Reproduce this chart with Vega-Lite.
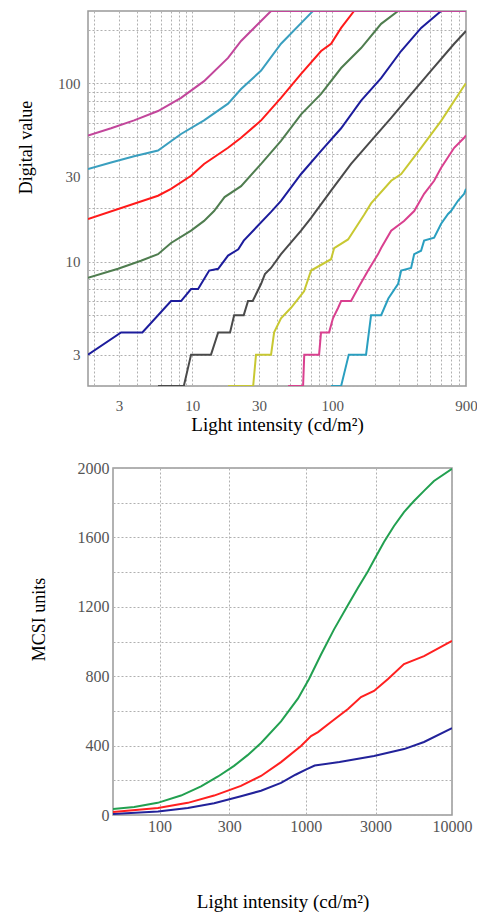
{
  "$schema": "https://vega.github.io/schema/vega-lite/v6.json",
  "padding": {"left": 16, "top": 10, "right": 0, "bottom": 0},
  "background": "white",
  "config": {
    "view": {"stroke": "#999999", "strokeWidth": 1.5},
    "font": "Liberation Serif",
    "axis": {
      "labelFont": "Liberation Serif",
      "titleFont": "Liberation Serif",
      "titleFontWeight": "normal",
      "titleColor": "#000000",
      "labelColor": "#555555",
      "domain": false,
      "ticks": false,
      "grid": true,
      "gridColor": "#b0b0b0",
      "gridDash": [2, 2],
      "gridWidth": 1
    }
  },
  "datasets": {
    "top": [
      {"s": "c1", "x": 97.9, "y": 2}, {"s": "c1", "x": 115.5, "y": 2}, {"s": "c1", "x": 131, "y": 3}, {"s": "c1", "x": 174, "y": 3}, {"s": "c1", "x": 189, "y": 5}, {"s": "c1", "x": 223, "y": 5}, {"s": "c1", "x": 251, "y": 6.2}, {"s": "c1", "x": 295, "y": 7.5}, {"s": "c1", "x": 310, "y": 8.9}, {"s": "c1", "x": 365, "y": 9.2}, {"s": "c1", "x": 384, "y": 11}, {"s": "c1", "x": 430, "y": 11.5}, {"s": "c1", "x": 452, "y": 13.1}, {"s": "c1", "x": 533, "y": 13.6}, {"s": "c1", "x": 598, "y": 16.3}, {"s": "c1", "x": 670, "y": 18.5}, {"s": "c1", "x": 704, "y": 19.2}, {"s": "c1", "x": 791, "y": 22}, {"s": "c1", "x": 873, "y": 24}, {"s": "c1", "x": 900, "y": 25.6},
      {"s": "c2", "x": 48.3, "y": 2}, {"s": "c2", "x": 61.8, "y": 2}, {"s": "c2", "x": 63, "y": 3}, {"s": "c2", "x": 80.4, "y": 3}, {"s": "c2", "x": 83, "y": 4}, {"s": "c2", "x": 94.8, "y": 4}, {"s": "c2", "x": 101, "y": 4.8}, {"s": "c2", "x": 110, "y": 5.5}, {"s": "c2", "x": 115.5, "y": 6}, {"s": "c2", "x": 136, "y": 6}, {"s": "c2", "x": 152.7, "y": 7.1}, {"s": "c2", "x": 180, "y": 8.9}, {"s": "c2", "x": 212, "y": 11}, {"s": "c2", "x": 223, "y": 11.9}, {"s": "c2", "x": 263, "y": 14.9}, {"s": "c2", "x": 325, "y": 16.9}, {"s": "c2", "x": 384, "y": 19.2}, {"s": "c2", "x": 452, "y": 24}, {"s": "c2", "x": 533, "y": 28.4}, {"s": "c2", "x": 598, "y": 33.6}, {"s": "c2", "x": 741, "y": 43.5}, {"s": "c2", "x": 873, "y": 49.5}, {"s": "c2", "x": 900, "y": 51},
      {"s": "c3", "x": 18, "y": 2}, {"s": "c3", "x": 27.2, "y": 2}, {"s": "c3", "x": 28.5, "y": 3}, {"s": "c3", "x": 36.5, "y": 3}, {"s": "c3", "x": 38.4, "y": 4}, {"s": "c3", "x": 43, "y": 4.8}, {"s": "c3", "x": 50.7, "y": 5.5}, {"s": "c3", "x": 62.8, "y": 6.8}, {"s": "c3", "x": 70.5, "y": 8.9}, {"s": "c3", "x": 97.9, "y": 10.3}, {"s": "c3", "x": 103, "y": 11.9}, {"s": "c3", "x": 129.5, "y": 13.3}, {"s": "c3", "x": 168.6, "y": 18.3}, {"s": "c3", "x": 189, "y": 21.2}, {"s": "c3", "x": 263, "y": 28.4}, {"s": "c3", "x": 310, "y": 31}, {"s": "c3", "x": 430, "y": 43.5}, {"s": "c3", "x": 598, "y": 61.6}, {"s": "c3", "x": 873, "y": 97}, {"s": "c3", "x": 900, "y": 100},
      {"s": "c4", "x": 5.69, "y": 2}, {"s": "c4", "x": 8.7, "y": 2}, {"s": "c4", "x": 9.8, "y": 3}, {"s": "c4", "x": 13.6, "y": 3}, {"s": "c4", "x": 15.3, "y": 4}, {"s": "c4", "x": 18.6, "y": 4}, {"s": "c4", "x": 19.9, "y": 5}, {"s": "c4", "x": 23.3, "y": 5}, {"s": "c4", "x": 25, "y": 6}, {"s": "c4", "x": 27, "y": 6}, {"s": "c4", "x": 31, "y": 7.5}, {"s": "c4", "x": 33, "y": 8.5}, {"s": "c4", "x": 36.5, "y": 9.2}, {"s": "c4", "x": 43, "y": 11}, {"s": "c4", "x": 59.8, "y": 14.9}, {"s": "c4", "x": 70.5, "y": 17.6}, {"s": "c4", "x": 97.9, "y": 25}, {"s": "c4", "x": 136, "y": 35.3}, {"s": "c4", "x": 189, "y": 47.6}, {"s": "c4", "x": 263, "y": 64}, {"s": "c4", "x": 365, "y": 87}, {"s": "c4", "x": 507, "y": 118}, {"s": "c4", "x": 741, "y": 167}, {"s": "c4", "x": 873, "y": 192}, {"s": "c4", "x": 900, "y": 197},
      {"s": "c5", "x": 1.8, "y": 3}, {"s": "c5", "x": 3.1, "y": 4}, {"s": "c5", "x": 4.4, "y": 4}, {"s": "c5", "x": 7.05, "y": 6}, {"s": "c5", "x": 8.31, "y": 6}, {"s": "c5", "x": 9.8, "y": 7}, {"s": "c5", "x": 11, "y": 7}, {"s": "c5", "x": 13.2, "y": 8.9}, {"s": "c5", "x": 15.3, "y": 9.1}, {"s": "c5", "x": 18, "y": 10.8}, {"s": "c5", "x": 21.3, "y": 11.7}, {"s": "c5", "x": 23.3, "y": 13.1}, {"s": "c5", "x": 36.5, "y": 19}, {"s": "c5", "x": 43, "y": 21.9}, {"s": "c5", "x": 59.8, "y": 31}, {"s": "c5", "x": 83.1, "y": 41.8}, {"s": "c5", "x": 115.5, "y": 56}, {"s": "c5", "x": 160.4, "y": 80}, {"s": "c5", "x": 222.9, "y": 107}, {"s": "c5", "x": 309.8, "y": 152}, {"s": "c5", "x": 430.4, "y": 205}, {"s": "c5", "x": 598, "y": 255}, {"s": "c5", "x": 900, "y": 255},
      {"s": "c6", "x": 1.8, "y": 8.1}, {"s": "c6", "x": 2.95, "y": 9.1}, {"s": "c6", "x": 4.3, "y": 10.1}, {"s": "c6", "x": 5.69, "y": 11}, {"s": "c6", "x": 7.05, "y": 12.7}, {"s": "c6", "x": 9.8, "y": 14.9}, {"s": "c6", "x": 12.13, "y": 16.9}, {"s": "c6", "x": 14.3, "y": 19.2}, {"s": "c6", "x": 17, "y": 23}, {"s": "c6", "x": 22.3, "y": 26.5}, {"s": "c6", "x": 31, "y": 35.3}, {"s": "c6", "x": 43, "y": 47.6}, {"s": "c6", "x": 59.8, "y": 67}, {"s": "c6", "x": 83.1, "y": 87.4}, {"s": "c6", "x": 115.5, "y": 122}, {"s": "c6", "x": 160.4, "y": 158}, {"s": "c6", "x": 222.9, "y": 216}, {"s": "c6", "x": 294.9, "y": 255}, {"s": "c6", "x": 900, "y": 255},
      {"s": "c7", "x": 1.8, "y": 17.3}, {"s": "c7", "x": 5.69, "y": 23.4}, {"s": "c7", "x": 7.05, "y": 25.6}, {"s": "c7", "x": 9.8, "y": 30.3}, {"s": "c7", "x": 12.13, "y": 35.3}, {"s": "c7", "x": 18, "y": 43.5}, {"s": "c7", "x": 22.3, "y": 49.5}, {"s": "c7", "x": 31, "y": 62}, {"s": "c7", "x": 43, "y": 83}, {"s": "c7", "x": 59.8, "y": 113}, {"s": "c7", "x": 83.1, "y": 152}, {"s": "c7", "x": 97.9, "y": 167}, {"s": "c7", "x": 115.5, "y": 205}, {"s": "c7", "x": 143, "y": 255}, {"s": "c7", "x": 900, "y": 255},
      {"s": "c8", "x": 1.8, "y": 33}, {"s": "c8", "x": 2.63, "y": 36}, {"s": "c8", "x": 3.84, "y": 39}, {"s": "c8", "x": 5.69, "y": 42}, {"s": "c8", "x": 8.31, "y": 52}, {"s": "c8", "x": 12.13, "y": 62}, {"s": "c8", "x": 18, "y": 77}, {"s": "c8", "x": 22.3, "y": 93}, {"s": "c8", "x": 31, "y": 118}, {"s": "c8", "x": 43, "y": 167}, {"s": "c8", "x": 70.5, "y": 249}, {"s": "c8", "x": 72.8, "y": 255}, {"s": "c8", "x": 900, "y": 255},
      {"s": "c9", "x": 1.8, "y": 51}, {"s": "c9", "x": 2.63, "y": 56}, {"s": "c9", "x": 3.84, "y": 62}, {"s": "c9", "x": 5.69, "y": 70}, {"s": "c9", "x": 8.31, "y": 83}, {"s": "c9", "x": 12.13, "y": 103}, {"s": "c9", "x": 18, "y": 139}, {"s": "c9", "x": 22.3, "y": 173}, {"s": "c9", "x": 28.5, "y": 210}, {"s": "c9", "x": 36.5, "y": 255}, {"s": "c9", "x": 900, "y": 255}
    ],
    "bottom": [
      {"s": "b1", "x": 48, "y": 6}, {"s": "b1", "x": 97.5, "y": 20}, {"s": "b1", "x": 156, "y": 40}, {"s": "b1", "x": 236, "y": 68}, {"s": "b1", "x": 360, "y": 108}, {"s": "b1", "x": 494, "y": 140}, {"s": "b1", "x": 677, "y": 185}, {"s": "b1", "x": 850, "y": 232}, {"s": "b1", "x": 1000, "y": 262}, {"s": "b1", "x": 1150, "y": 285}, {"s": "b1", "x": 1700, "y": 305}, {"s": "b1", "x": 2927, "y": 340}, {"s": "b1", "x": 4695, "y": 380}, {"s": "b1", "x": 6434, "y": 421}, {"s": "b1", "x": 10000, "y": 501},
      {"s": "b2", "x": 48, "y": 17}, {"s": "b2", "x": 97.5, "y": 40}, {"s": "b2", "x": 156, "y": 70}, {"s": "b2", "x": 236, "y": 112}, {"s": "b2", "x": 360, "y": 168}, {"s": "b2", "x": 494, "y": 225}, {"s": "b2", "x": 677, "y": 305}, {"s": "b2", "x": 927, "y": 398}, {"s": "b2", "x": 1086, "y": 455}, {"s": "b2", "x": 1212, "y": 478}, {"s": "b2", "x": 1487, "y": 536}, {"s": "b2", "x": 1943, "y": 611}, {"s": "b2", "x": 2385, "y": 680}, {"s": "b2", "x": 2927, "y": 715}, {"s": "b2", "x": 3650, "y": 784}, {"s": "b2", "x": 4695, "y": 870}, {"s": "b2", "x": 6434, "y": 916}, {"s": "b2", "x": 10000, "y": 1003},
      {"s": "b3", "x": 48, "y": 35}, {"s": "b3", "x": 67, "y": 46}, {"s": "b3", "x": 97, "y": 70}, {"s": "b3", "x": 140, "y": 112}, {"s": "b3", "x": 192, "y": 165}, {"s": "b3", "x": 251, "y": 222}, {"s": "b3", "x": 323, "y": 283}, {"s": "b3", "x": 400, "y": 345}, {"s": "b3", "x": 494, "y": 415}, {"s": "b3", "x": 677, "y": 540}, {"s": "b3", "x": 885, "y": 672}, {"s": "b3", "x": 1052, "y": 784}, {"s": "b3", "x": 1271, "y": 925}, {"s": "b3", "x": 1560, "y": 1070}, {"s": "b3", "x": 1943, "y": 1210}, {"s": "b3", "x": 2275, "y": 1310}, {"s": "b3", "x": 2662, "y": 1405}, {"s": "b3", "x": 3000, "y": 1485}, {"s": "b3", "x": 3426, "y": 1574}, {"s": "b3", "x": 4012, "y": 1666}, {"s": "b3", "x": 4695, "y": 1746}, {"s": "b3", "x": 5496, "y": 1810}, {"s": "b3", "x": 6434, "y": 1868}, {"s": "b3", "x": 7530, "y": 1925}, {"s": "b3", "x": 10000, "y": 1995}
    ]
  },
  "concat": [
    {
      "width": 378,
      "height": 375,
      "data": {"name": "top"},
      "mark": {"type": "line", "strokeWidth": 2, "clip": true},
      "encoding": {
        "x": {
          "field": "x", "type": "quantitative",
          "scale": {"type": "log", "domain": [1.8, 900], "nice": false},
          "axis": {
            "values": [2, 3, 4, 5, 6, 7, 8, 9, 10, 20, 30, 40, 50, 60, 70, 80, 90, 100, 200, 300, 400, 500, 600, 700, 800, 900],
            "labelExpr": "indexof([3, 10, 30, 100, 900], datum.value) >= 0 ? datum.label : ''",
            "labelFontSize": 15,
            "labelPadding": 12,
            "labelFlush": false,
            "labelOverlap": false,
            "title": "Light intensity (cd/m²)",
            "titleFontSize": 19,
            "titlePadding": 2
          }
        },
        "y": {
          "field": "y", "type": "quantitative",
          "scale": {"type": "log", "domain": [2, 255], "nice": false},
          "axis": {
            "values": [2, 3, 4, 5, 6, 7, 8, 9, 10, 20, 30, 40, 50, 60, 70, 80, 90, 100, 200],
            "labelExpr": "indexof([3, 10, 30, 100], datum.value) >= 0 ? datum.label : ''",
            "labelFontSize": 15,
            "labelPadding": 8,
            "labelOverlap": false,
            "title": "Digital value",
            "titleFontSize": 18,
            "titleX": -62,
            "titleY": 136,
            "titleAlign": "center",
            "titleBaseline": "middle"
          }
        },
        "color": {
          "field": "s", "type": "nominal",
          "scale": {
            "domain": ["c1", "c2", "c3", "c4", "c5", "c6", "c7", "c8", "c9"],
            "range": ["#2a9fc0", "#d9408f", "#c8c832", "#4a4a4a", "#1c1c9c", "#4f7d4f", "#ff1a1a", "#3a9fbf", "#c2469b"]
          },
          "legend": null
        }
      }
    },
    {
      "hconcat": [
        {
          "width": 15,
          "height": 347,
          "data": {"values": [{"a": 1}]},
          "mark": {"type": "text", "text": ""},
          "encoding": {},
          "view": {"stroke": null}
        },
        {
          "width": 339,
          "height": 347,
          "data": {"name": "bottom"},
          "mark": {"type": "line", "strokeWidth": 2, "clip": true},
          "encoding": {
            "x": {
              "field": "x", "type": "quantitative",
              "scale": {"type": "log", "domain": [48, 10000], "nice": false},
              "axis": {
                "values": [100, 300, 1000, 3000, 10000],
                "labelFontSize": 16,
                "labelPadding": 3,
                "labelFlush": false,
                "format": "d",
                "title": "Light intensity (cd/m²)",
                "titleFontSize": 19,
                "titlePadding": 58
              }
            },
            "y": {
              "field": "y", "type": "quantitative",
              "scale": {"domain": [0, 2000], "nice": false},
              "axis": {
                "values": [0, 200, 400, 600, 800, 1000, 1200, 1400, 1600, 1800, 2000],
                "labelExpr": "datum.value % 400 == 0 ? datum.label : ''",
                "format": "d",
                "labelFontSize": 16,
                "labelPadding": 4,
                "labelOverlap": false,
                "title": "MCSI units",
                "titleFontSize": 18,
                "titleX": -74,
                "titleY": 151,
                "titleAlign": "center",
                "titleBaseline": "middle"
              }
            },
            "color": {
              "field": "s", "type": "nominal",
              "scale": {"domain": ["b1", "b2", "b3"], "range": ["#22229a", "#ff2020", "#22a050"]},
              "legend": null
            }
          }
        }
      ],
      "spacing": 10,
      "bounds": "flush",
      "resolve": {"scale": {"color": "independent", "x": "independent", "y": "independent"}}
    }
  ],
  "columns": 1,
  "spacing": 24,
  "resolve": {"scale": {"color": "independent", "x": "independent", "y": "independent"}}
}
